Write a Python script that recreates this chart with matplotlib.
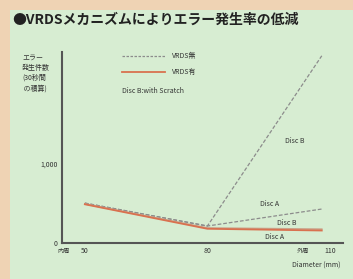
import matplotlib
matplotlib.use("Agg")
import matplotlib.pyplot as plt
from matplotlib.patches import Rectangle

plt.rcParams['font.family'] = ['Noto Sans CJK JP', 'DejaVu Sans']

# data
diameter = [50, 80, 108]
no_vrds_disc_b = [505, 215, 2370]
no_vrds_disc_a = [505, 215, 430]
vrds_disc_b = [495, 190, 175]
vrds_disc_a = [490, 180, 158]
xticks = [50, 80, 110]
yticks = [0, 1000]
ytick_labels = ['0', '1,000']

fig = plt.figure(figsize=(3.53, 2.79), dpi=100)
fig.patch.set_facecolor('#efd3b4')

# green panel behind everything
bg = fig.add_axes([0, 0, 1, 1], zorder=-5)
bg.axis('off')
bg.add_patch(Rectangle((10 / 353, 0), 1, 1 - 10 / 279, transform=bg.transAxes,
                       facecolor='#d7edd2', edgecolor='none'))

ax = fig.add_axes([62 / 353, 1 - 243 / 279, 281 / 353, 191 / 279])
ax.set_facecolor('none')

gray = '#8c8c8c'
red = '#d9714f'
ax.plot(diameter, no_vrds_disc_b, color=gray, lw=0.9, ls=(0, (3, 1.5)))
ax.plot(diameter, no_vrds_disc_a, color=gray, lw=0.9, ls=(0, (3, 1.5)))
ax.plot(diameter, vrds_disc_b, color='#c9a38a', lw=1.2)
ax.plot(diameter, vrds_disc_a, color=red, lw=1.3)

ax.set_xlim(44.4, 113.2)
ax.set_ylim(0, 2418)
ax.set_xticks(xticks)
ax.set_xticklabels([str(v) for v in xticks], fontsize=5, color='#333333')
ax.set_yticks(yticks)
ax.set_yticklabels(ytick_labels, fontsize=5, color='#333333')
ax.tick_params(length=0, pad=3)
for s in ['top', 'right']:
    ax.spines[s].set_visible(False)
for s in ['left', 'bottom']:
    ax.spines[s].set_color('#555555')
    ax.spines[s].set_linewidth(1.5)

# legend drawn by hand like the original
ax.plot([59.1, 69.6], [2370, 2370], color=gray, lw=0.9, ls=(0, (2, 1.2)), clip_on=False)
ax.text(71.3, 2370, 'VRDS無', fontsize=5, va='center', color='#333333')
ax.plot([59.1, 69.6], [2160, 2160], color=red, lw=1.3, clip_on=False)
ax.text(71.3, 2160, 'VRDS有', fontsize=5, va='center', color='#333333')
ax.text(59.1, 1920, 'Disc B:with Scratch', fontsize=5, va='center', color='#333333')

# series labels
ax.text(99, 1290, 'Disc B', fontsize=5, va='center', color='#333333')
ax.text(93, 500, 'Disc A', fontsize=5, va='center', color='#333333')
ax.text(97, 255, 'Disc B', fontsize=5, va='center', color='#333333')
ax.text(94, 75, 'Disc A', fontsize=5, va='center', color='#333333')

fig.text(12 / 353, 1 - 20 / 279, '●VRDSメカニズムによりエラー発生率の低減',
         fontsize=10, fontweight='bold', va='center', color='#222222')
fig.text(22 / 353, 1 - 73 / 279, 'エラー\n発生件数\n(30秒間\n の積算)', fontsize=5,
         ha='left', va='center', linespacing=1.35, color='#333333')
fig.text(64 / 353, 1 - 251 / 279, '内周', fontsize=4.5, ha='center', va='center', color='#333333')
fig.text(303 / 353, 1 - 251 / 279, '外周', fontsize=4.5, ha='center', va='center', color='#333333')
fig.text(341 / 353, 1 - 265 / 279, 'Diameter (mm)', fontsize=5, ha='right', va='center',
         color='#333333')

fig.savefig('out.png', dpi=100, facecolor=fig.get_facecolor())
